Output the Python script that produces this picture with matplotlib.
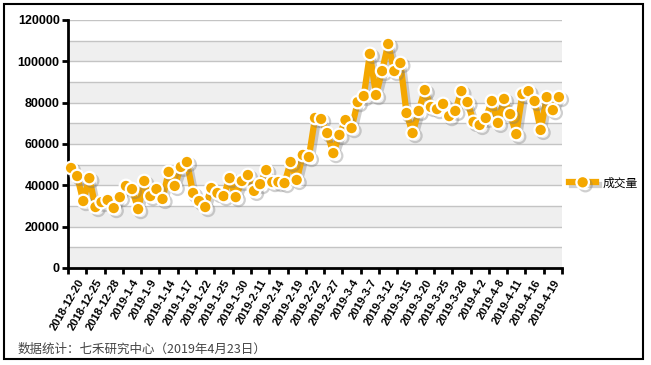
import numpy as np
import matplotlib
matplotlib.use("Agg")
import matplotlib.pyplot as plt
import matplotlib.patheffects as pe
from matplotlib.patches import Rectangle

# Data
date_labels = ['2018-12-20', '2018-12-25', '2018-12-28', '2019-1-4', '2019-1-9',
               '2019-1-14', '2019-1-17', '2019-1-22', '2019-1-25', '2019-1-30',
               '2019-2-11', '2019-2-14', '2019-2-19', '2019-2-22', '2019-2-27',
               '2019-3-4', '2019-3-7', '2019-3-12', '2019-3-15', '2019-3-20',
               '2019-3-25', '2019-3-28', '2019-4-2', '2019-4-8', '2019-4-11',
               '2019-4-16', '2019-4-19']

volume = [48400, 44500, 32400, 43500, 29500, 31900, 32900, 29000, 34300, 39700,
          38200, 28500, 42100, 34800, 38200, 33400, 46500, 39700, 48900, 51300,
          36300, 32400, 29500, 38700, 36300, 34800, 43500, 34300, 42100, 45000,
          37300, 40600, 47400, 41600, 41600, 41100, 51300, 42600, 54700, 53700,
          72600, 72100, 65300, 55600, 64400, 71600, 67700, 80300, 83200, 103600,
          83700, 95300, 108400, 95300, 99200, 75000, 65300, 76000, 86100, 77900,
          76900, 79400, 73500, 76000, 85600, 80300, 70700, 69200, 72600, 80800,
          70200, 81800, 74500, 64800, 84200, 85600, 80800, 66800, 82700, 76400,
          82700]

series_name = '成交量'
footer = '数据统计：七禾研究中心（2019年4月23日）'

orange = '#f4a700'

fig = plt.figure(figsize=(6.51, 3.65), dpi=100)
ax = fig.add_axes([68 / 651, 1 - 268 / 365, 494 / 651, 248 / 365])

x = np.arange(len(volume))
ax.set_xlim(-0.5, len(volume) - 0.5)
ax.set_ylim(0, 120000)

# alternating bands + grid lines
for lo in range(0, 120000, 20000):
    ax.axhspan(lo, lo + 10000, color='#efefef', zorder=0, lw=0)
for g in range(10000, 120001, 10000):
    ax.axhline(g, color='#c4c4c4', lw=1, zorder=1)

shadow = [pe.SimpleLineShadow(offset=(2, -2), shadow_color='#777777', alpha=0.35),
          pe.Normal()]
ax.plot(x, volume, color=orange, lw=4.5, marker='o', ms=9,
        markerfacecolor=orange, markeredgecolor='white', markeredgewidth=1.6,
        label=series_name, zorder=3, path_effects=shadow, clip_on=False)

# axes styling
for s in ['top', 'right']:
    ax.spines[s].set_visible(False)
ax.spines['left'].set_linewidth(2)
ax.spines['bottom'].set_linewidth(2)
ax.set_yticks(range(0, 120001, 20000))
ax.tick_params(axis='y', length=4, width=2, pad=2, labelsize=9)
for t in ax.get_yticklabels():
    t.set_fontweight('bold')
    t.set_family('Liberation Sans')

ax.set_xticks(np.arange(1, len(volume), 3))
ax.set_xticklabels(date_labels, rotation=60, ha='right', va='top',
                   rotation_mode='anchor', fontsize=8, fontweight='bold',
                   family='Liberation Sans')
ax.tick_params(axis='x', which='major', length=0, pad=7)
ax.set_xticks(np.arange(-0.5, len(volume), 3), minor=True)
ax.tick_params(axis='x', which='minor', length=4, width=2)

leg = ax.legend(loc='center left', bbox_to_anchor=(1.0, 0.343), frameon=False,
                handlelength=2.3, handletextpad=0.5, borderaxespad=0.2,
                prop={'family': 'Noto Sans CJK SC', 'size': 8.5})

fig.text(18 / 651, 1 - 349 / 365, footer, fontsize=9, color='#444444',
         family=['Noto Sans CJK SC', 'DejaVu Sans'], va='center')

fig.patches.append(Rectangle((4 / 651, 1 - 359 / 365), 639 / 651, 355 / 365,
                             transform=fig.transFigure, fill=False,
                             edgecolor='black', lw=1.5))

fig.savefig('out.png', dpi=100)
